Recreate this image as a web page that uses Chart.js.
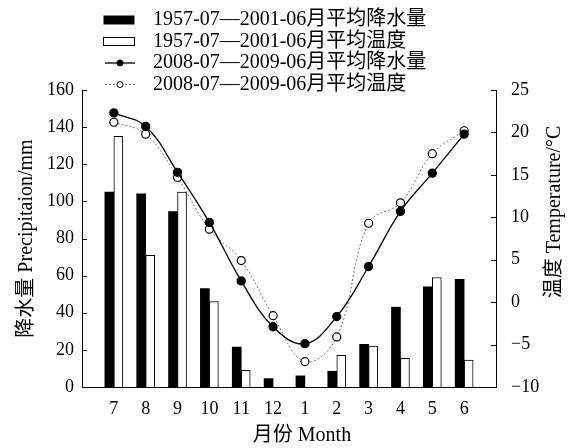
<!DOCTYPE html>
<html>
<head>
<meta charset="utf-8">
<script src="https://cdn.jsdelivr.net/npm/chart.js@4.4.1/dist/chart.umd.min.js"></script>
<style>
    html, body { margin: 0; padding: 0; background: #fff; }
</style>
</head>
<body>
<canvas id="climateChart" width="570" height="448"></canvas>
<script>
// data srt
const months = ['', '7', '8', '9', '10', '11', '12', '1', '2', '3', '4', '5', '6', ''];
const rainOld = [null, 105, 104, 94.5, 53, 21.5, 4.5, 6, 8.5, 23, 43, 54, 58, null];   // black bars
const tempOld = [null, 135, 71, 105, 46, 9, null, null, 17, 22, 15.5, 59, 14.5, null]; // white bars
const rainNew = [null, 22.3, 20.7, 15.3, 9.4, 2.5, -2.9, -4.9, -1.7, 4.2, 10.7, 15.2, 19.8, null]; // solid line
const tempNew = [null, 21.2, 19.8, 14.7, 8.6, 4.9, -1.6, -7.0, -4.1, 9.3, 11.7, 17.5, 20.2, null]; // dotted line
const leftTicks = { min: 0, max: 160, step: 20 };
const rightTicks = { min: -10, max: 25, step: 5 };
// data end

const FONT = "'Liberation Serif', 'Noto Sans CJK SC', serif";

// extra drawing: inward ticks, right title, x title, legend
const extras = {
    id: 'extras',
    afterDraw(chart) {
        const ctx = chart.ctx;
        const area = chart.chartArea;
        const y = chart.scales.y;
        const y1 = chart.scales.y1;

        ctx.save();
        ctx.strokeStyle = '#000';
        ctx.lineWidth = 1;
        ctx.beginPath();
        y.ticks.forEach(t => {
            const py = Math.round(y.getPixelForValue(t.value)) + 0.5;
            ctx.moveTo(area.left, py);
            ctx.lineTo(area.left + 5, py);
        });
        y1.ticks.forEach(t => {
            const py = Math.round(y1.getPixelForValue(t.value)) + 0.5;
            ctx.moveTo(area.right, py);
            ctx.lineTo(area.right - 5, py);
        });
        ctx.stroke();

        ctx.fillStyle = '#000';
        ctx.textAlign = 'center';
        ctx.textBaseline = 'middle';

        // right axis title (reads bottom to top)
        ctx.save();
        ctx.font = '20px ' + FONT;
        ctx.translate(555, 212);
        ctx.rotate(-Math.PI / 2);
        ctx.fillText('温度 Temperature/°C', 0, 0);
        ctx.restore();

        // x title
        ctx.font = '20px ' + FONT;
        ctx.fillText('月份 Month', 302, 436);

        // legend
        const ds = chart.data.datasets;
        ctx.font = '20px ' + FONT;
        ctx.textAlign = 'left';
        ds.forEach((d, i) => {
            const cy = 20 + i * 21.5;
            if (d.type === 'bar') {
                ctx.fillStyle = d.backgroundColor;
                ctx.fillRect(103.5, cy - 4.5, 31, 9);
                if (d.borderWidth) {
                    ctx.strokeStyle = d.borderColor;
                    ctx.lineWidth = 1;
                    ctx.strokeRect(103.5, cy - 4, 31, 8);
                }
            } else {
                ctx.strokeStyle = d.borderColor;
                ctx.lineWidth = d.borderWidth;
                ctx.setLineDash(d.borderDash || []);
                ctx.beginPath();
                ctx.moveTo(105, cy);
                ctx.lineTo(135, cy);
                ctx.stroke();
                ctx.setLineDash([]);
                ctx.beginPath();
                ctx.arc(120, cy, 3, 0, Math.PI * 2);
                ctx.fillStyle = d.pointBackgroundColor;
                ctx.fill();
                ctx.strokeStyle = d.pointBorderColor;
                ctx.lineWidth = 1;
                ctx.stroke();
            }
            ctx.fillStyle = '#000';
            ctx.fillText(d.label, 153, cy);
        });
        ctx.restore();
    }
};

const tickFont = { family: FONT, size: 18 };

const chart = new Chart(document.getElementById('climateChart'), {
    type: 'bar',
    data: {
        labels: months,
        datasets: [
            {
                type: 'bar',
                label: '1957-07—2001-06月平均降水量',
                data: rainOld,
                backgroundColor: '#000',
                borderColor: '#000',
                borderWidth: 0,
                barThickness: 9,
                yAxisID: 'y',
                order: 1
            },
            {
                type: 'bar',
                label: '1957-07—2001-06月平均温度',
                data: tempOld,
                backgroundColor: '#fff',
                borderColor: '#000',
                borderWidth: 1,
                barThickness: 9,
                yAxisID: 'y',
                order: 1
            },
            {
                type: 'line',
                label: '2008-07—2009-06月平均降水量',
                data: rainNew,
                yAxisID: 'y1',
                borderColor: '#000',
                borderWidth: 1.3,
                tension: 0.4,
                pointRadius: 4,
                pointBackgroundColor: '#000',
                pointBorderColor: '#000',
                fill: false,
                order: 0
            },
            {
                type: 'line',
                label: '2008-07—2009-06月平均温度',
                data: tempNew,
                yAxisID: 'y1',
                borderColor: '#777',
                borderWidth: 1,
                borderDash: [2, 2],
                tension: 0.4,
                pointRadius: 4,
                pointBackgroundColor: '#fff',
                pointBorderColor: '#000',
                pointBorderWidth: 1.2,
                fill: false,
                order: 0
            }
        ]
    },
    options: {
        responsive: false,
        animation: false,
        layout: { padding: { top: 90, left: 0, right: 0, bottom: 0 } },
        plugins: {
            legend: { display: false },
            tooltip: { enabled: false }
        },
        scales: {
            x: {
                offset: false,
                grid: { display: false },
                border: { color: '#000', width: 1 },
                ticks: { color: '#000', font: tickFont, padding: 3, autoSkip: false, maxRotation: 0 },
                afterFit: s => { s.height = 61; }
            },
            y: {
                position: 'left',
                min: leftTicks.min,
                max: leftTicks.max,
                grid: { display: false },
                border: { color: '#000', width: 1 },
                ticks: { stepSize: leftTicks.step, color: '#000', font: tickFont, padding: 0 },
                title: {
                    display: true,
                    text: '降水量 Precipitaion/mm',
                    color: '#000',
                    font: { family: FONT, size: 20 },
                    padding: { top: 15, bottom: 0 }
                },
                afterFit: s => { s.width = 82; }
            },
            y1: {
                position: 'right',
                min: rightTicks.min,
                max: rightTicks.max,
                grid: { display: false },
                border: { color: '#000', width: 1 },
                ticks: {
                    stepSize: rightTicks.step,
                    color: '#000',
                    font: tickFont,
                    padding: 7,
                    callback: v => String(v).replace('-', '−')
                },
                afterFit: s => { s.width = 74; }
            }
        }
    },
    plugins: [extras]
});
</script>
</body>
</html>
